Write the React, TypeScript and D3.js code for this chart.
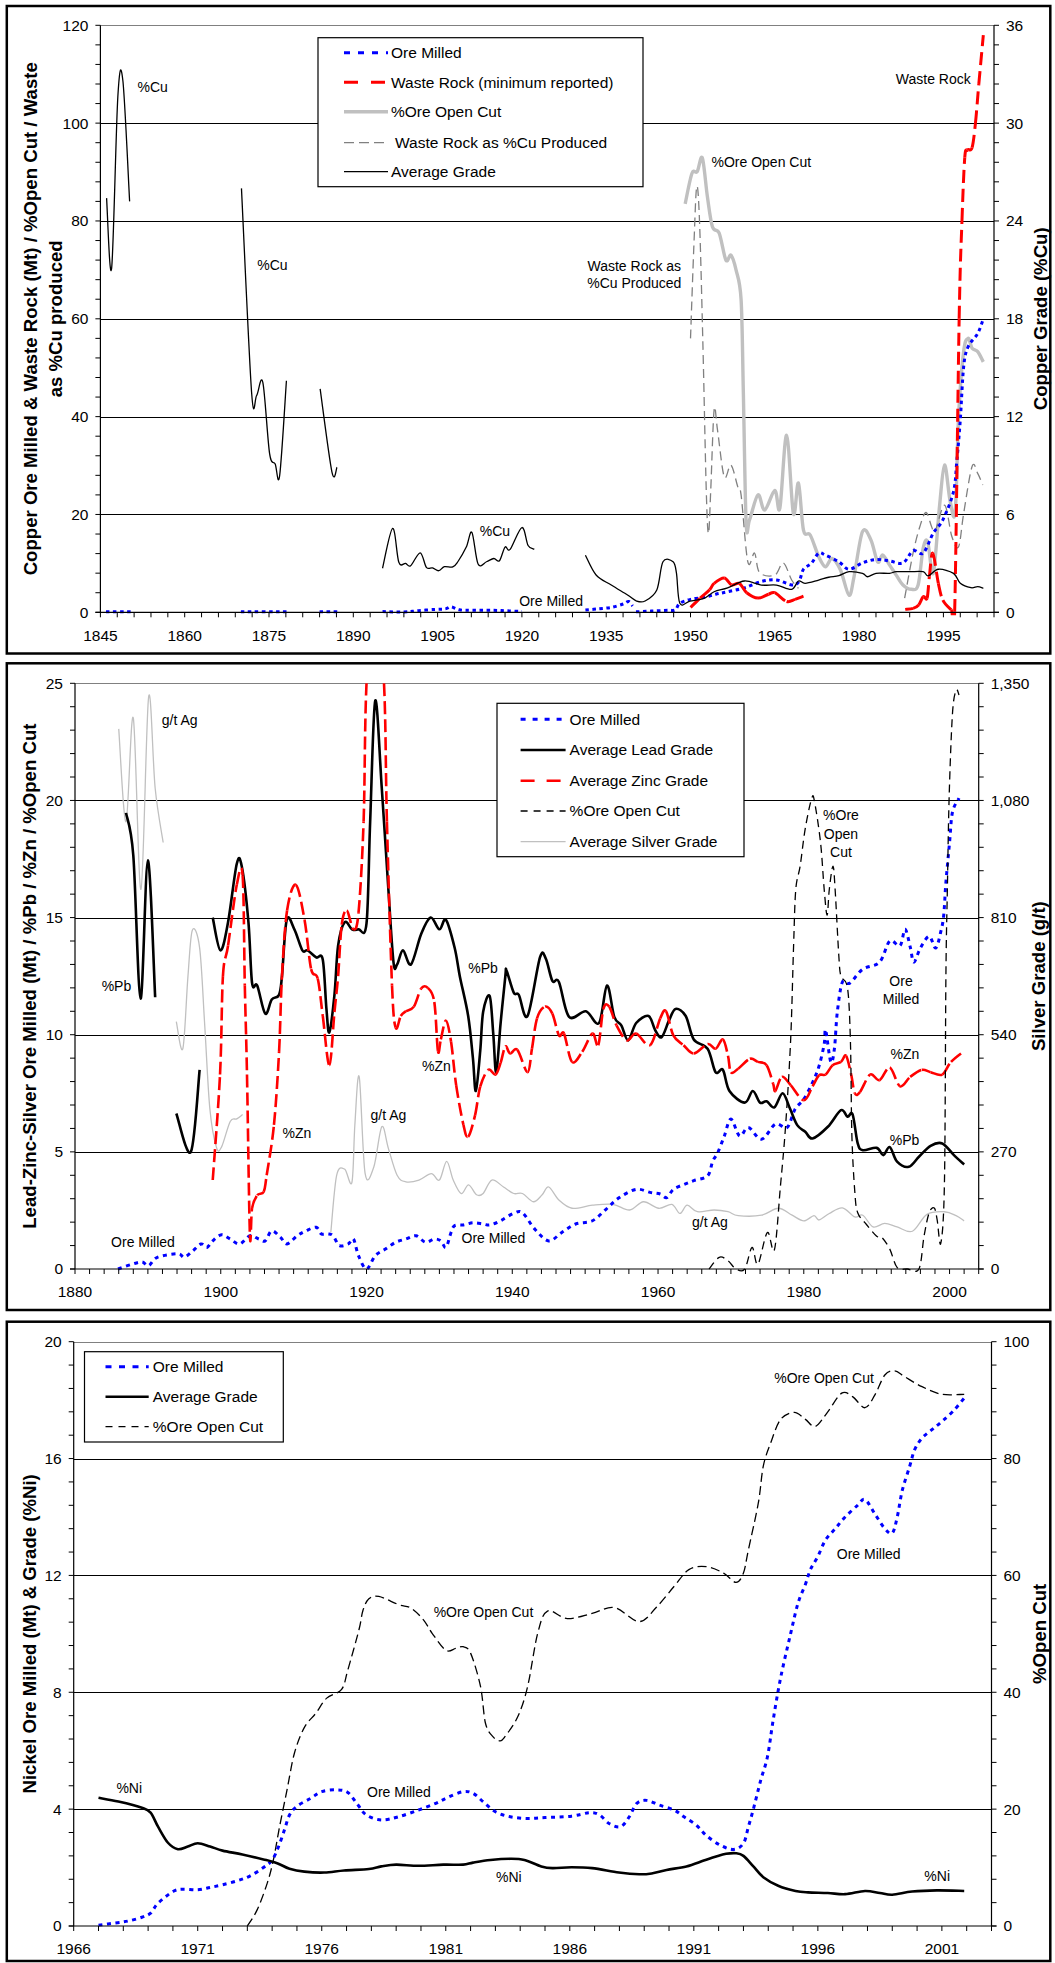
import React from "react";
import * as d3 from "d3";

type P = [number, number];
const FONT = '"Liberation Sans", Arial, Helvetica, sans-serif';

// ================= Panel 1 : Copper =================
const cuXDomain: P = [1845, 2004];
const cuXLabels = [1845, 1860, 1875, 1890, 1905, 1920, 1935, 1950, 1965, 1980, 1995];
const cuLeftTicks = [0, 20, 40, 60, 80, 100, 120];
const cuRightTicks = [0, 6, 12, 18, 24, 30, 36];

const cuOreMilled: P[][] = [
  [[1846, 0.1], [1850.5, 0.1]],
  [[1870, 0.1], [1878.2, 0.1]],
  [[1884, 0.1], [1887.2, 0.1]],
  [[1895.2, 0.14], [1899, 0.07], [1901.6, 0.34], [1904.6, 0.6], [1906.4, 0.7], [1907.4, 1.1], [1908.9, 0.5], [1911.3, 0.4], [1915, 0.4], [1917.3, 0.3], [1920, 0.17]],
  [[1931.3, 0.47], [1933.5, 0.7], [1935.9, 1.0], [1938, 1.7], [1939, 2.2], [1939.7, 1.3]],
  [[1940.3, 0.1], [1943, 0.25], [1946, 0.4], [1947.3, 0.5], [1948.1, 1.84], [1950, 2.65], [1952.4, 3.07], [1954.5, 3.7], [1956.6, 4.2], [1959.6, 5.0], [1962.6, 6.3], [1965.3, 6.6], [1968, 5.6], [1969.3, 6.3], [1970.1, 8.8], [1971.5, 10.0], [1972.8, 12.1], [1974, 11.7], [1976.4, 10.3], [1978.2, 8.8], [1980.6, 10.1], [1983, 10.8], [1985.4, 10.5], [1987.8, 10.1], [1989.6, 12.6], [1991.4, 12.1], [1993.2, 16.2], [1994.9, 18.9], [1996.8, 24.7], [1997.4, 31.1], [1998, 39.3], [1998.6, 50.2], [1999.4, 54.3], [2001.1, 57.0], [2002.1, 60]],
];
const cuWasteRock: P[][] = [
  [[1950, 1.0], [1951.7, 2.9], [1953.4, 4.6], [1954.2, 5.9], [1956, 7.0], [1957.3, 5.6], [1958.7, 5.9], [1960, 4.0], [1962, 2.9], [1963.9, 3.7], [1965, 4.0], [1967.1, 2.2], [1968.6, 2.65], [1970.1, 3.3]],
  [[1988.2, 0.6], [1989.6, 0.8], [1990.6, 1.5], [1991.4, 3.2], [1992.1, 2.9], [1992.5, 7.3], [1993.1, 12.1], [1994.1, 5.9], [1994.9, 2.5], [1996.4, 0.5], [1997.0, 0.1], [1997.8, 60], [1998.3, 80], [1998.8, 93], [1999.3, 94.5], [2000.1, 95], [2000.7, 100], [2001.3, 108], [2002.1, 118]],
];
const cuOpenCut: P[][] = [
  [[1949.05, 83.5], [1950.25, 89.7], [1951.2, 90.1], [1952.1, 92.9], [1953.0, 85], [1953.9, 78.8], [1955.1, 77.5], [1956.3, 72.0], [1957.2, 73], [1958.1, 70], [1959.0, 63.9], [1959.4, 45], [1959.9, 18.2], [1960.5, 18.9], [1962, 24.0], [1963.2, 20.9], [1965, 24.9], [1965.9, 21.3], [1967.1, 36.2], [1968.3, 20.2], [1969.2, 26.4], [1970.1, 16.8], [1971.3, 15.8], [1972.8, 11.4], [1974, 9.3], [1975.2, 11.0], [1976.7, 8.6], [1978.2, 3.5], [1979.1, 7.3], [1980.6, 16.5], [1982.1, 14.8], [1983.3, 10.3], [1984.2, 11.7], [1985.4, 9.7], [1986.6, 7.6], [1987.8, 5.6], [1989.3, 4.7], [1990.5, 5.6], [1991.4, 13.1], [1992.2, 14.4], [1993.2, 8.0], [1994.3, 21.6], [1995.2, 30.1], [1996.2, 22.7], [1997.1, 20.6], [1997.7, 40], [1998.6, 53.3], [1999.4, 56], [2000.1, 54], [2001.1, 53.3], [2002.1, 51.2]],
];
const cuWasteAsCu: P[][] = [
  [[1950.0, 56], [1950.6, 75], [1951.1, 87], [1951.6, 80], [1952.2, 55], [1952.8, 25], [1953.2, 16.1], [1953.6, 25], [1954.2, 41.4], [1954.8, 37.3], [1956, 27.7], [1957.2, 30.1], [1958.4, 25.7], [1959, 24], [1960.2, 10.3], [1961.4, 12.1], [1962.3, 8.1], [1965, 7.6], [1966.5, 10.1], [1968, 6.6], [1969.2, 4.9]],
  [[1988.1, 2.9], [1989.6, 12.1], [1990.8, 17.5], [1991.9, 20.4], [1992.9, 17.5], [1993.5, 16.5], [1995.2, 21.9], [1996.5, 15.5], [1997.7, 13.4], [1998.6, 20.2], [2000.1, 29.8], [2001.1, 28.4], [2002, 26]],
];
const cuGrade: P[][] = [
  [[1846.1, 25.4], [1847, 21.1], [1848.1, 31.6], [1849, 32.6], [1850.2, 25.2]],
  [[1870.1, 26.0], [1871.9, 13.5], [1872.8, 13.3], [1873.9, 14.1], [1875.1, 9.75], [1876.1, 9.1], [1876.9, 8.4], [1878.1, 14.2]],
  [[1884.1, 13.7], [1886.2, 8.6], [1887.1, 8.9]],
  [[1895.2, 2.7], [1897, 5.15], [1898.1, 3.07], [1899.3, 3.0], [1900.2, 2.86], [1901.9, 3.65], [1903, 2.76], [1904.1, 2.72], [1905.2, 2.55], [1906.2, 2.8], [1907.7, 2.78], [1908.6, 3.1], [1910.1, 4.0], [1911.1, 4.9], [1912.2, 2.96], [1913.7, 3.1], [1915, 3.3], [1916, 3.16], [1917, 4.0], [1917.9, 3.86], [1920, 5.2], [1921.1, 4.1], [1922.2, 3.86]],
  [[1931.3, 3.5], [1933.2, 2.29], [1935.9, 1.67], [1938.8, 1.06], [1940.4, 0.69], [1941.9, 0.69], [1944, 1.37], [1945.1, 3.1], [1946.9, 3.1], [1947.5, 2.4], [1948.1, 0.55], [1949.9, 0.69], [1952.4, 0.86], [1954.2, 1.26], [1956.6, 1.5], [1959.6, 1.92], [1962.6, 1.67], [1965.3, 1.67], [1968, 1.41], [1969.2, 1.92], [1970.4, 1.78], [1972.8, 1.98], [1974.6, 2.15], [1976.4, 2.25], [1978.2, 2.49], [1980.6, 2.39], [1981.5, 2.18], [1983, 2.39], [1985.4, 2.39], [1986.6, 2.49], [1989, 2.49], [1991.4, 2.49], [1992.3, 2.23], [1994.1, 2.64], [1996.8, 2.39], [1998, 1.78], [1999.9, 1.51], [2001.1, 1.57], [2002.1, 1.47]],
];

// ================= Panel 2 : Lead-Zinc-Silver =================
const pzXDomain: P = [1880, 2004];
const pzXLabels = [1880, 1900, 1920, 1940, 1960, 1980, 2000];
const pzLeftTicks = [0, 5, 10, 15, 20, 25];
const pzRightTicks = [0, 270, 540, 810, 1080, 1350];

const pzOreMilled: P[][] = [
  [[1885.9, 0], [1887.8, 0.2], [1889.2, 0.3], [1890.1, 0.14], [1891.3, 0.5], [1894.1, 0.65], [1895, 0.5], [1896.2, 0.78], [1897.3, 1.07], [1898.1, 0.92], [1898.9, 1.2], [1900.1, 1.46], [1901.3, 1.28], [1902.6, 1.07], [1904, 1.42], [1905.2, 1.28], [1906.1, 1.2], [1907, 1.63], [1908.2, 1.35], [1909.1, 1.07], [1910.5, 1.42], [1911.7, 1.63], [1913.1, 1.78], [1913.8, 1.5], [1914.7, 1.5], [1915.4, 1.42], [1916.3, 1.0], [1917.5, 1.07], [1918.2, 1.28], [1918.9, 0.57], [1920, 0], [1921.2, 0.57], [1922.6, 0.85], [1924, 1.14], [1925.4, 1.28], [1926.8, 1.42], [1928.1, 1.14], [1929.3, 1.28], [1930.2, 1.2], [1930.9, 0.92], [1931.6, 1.56], [1932.1, 1.85], [1933.3, 1.88], [1934.6, 1.97], [1936, 1.92], [1936.95, 1.88], [1938.4, 2.06], [1940.2, 2.38], [1941.4, 2.4], [1943.1, 1.7], [1945, 1.2], [1946.8, 1.56], [1948.7, 1.92], [1951, 2.06], [1952.9, 2.56], [1954.7, 3.05], [1957, 3.4], [1958.9, 3.27], [1960.3, 3.2], [1961.2, 3.05], [1962.1, 3.4], [1963.5, 3.6], [1964.9, 3.77], [1966.8, 3.98], [1967.5, 4.6], [1968.2, 4.97], [1969.1, 5.68], [1970, 6.4], [1971.2, 5.68], [1972.4, 6.04], [1974.2, 5.54], [1976.1, 6.18], [1977.7, 6.04], [1978.8, 6.82], [1980, 7.25], [1981.2, 7.96], [1982.1, 8.67], [1982.8, 9.6], [1983, 10.2], [1983.7, 8.84], [1984.2, 9.4], [1984.6, 10.97], [1985.3, 12.25], [1986.3, 12.2], [1988.1, 12.8], [1990.4, 13.1], [1991.8, 14.0], [1993.2, 13.8], [1993.9, 14.5], [1994.6, 13.75], [1995.1, 13.1], [1996, 13.7], [1997.2, 14.2], [1998.1, 13.7], [1998.8, 14.4], [1999.2, 15.1], [1999.5, 16.5], [2000, 18.2], [2000.4, 19.5], [2001.3, 20.1]],
];
const pzLead: P[][] = [
  [[1887, 19.47], [1888, 17.65], [1889, 11.54], [1890, 17.44], [1891, 11.6]],
  [[1893.9, 6.64], [1895.9, 5.0], [1897.1, 8.5]],
  [[1898.9, 15.0], [1899.95, 13.6], [1901, 14.8], [1902.2, 17.3], [1902.9, 17.16], [1903.8, 14.8], [1904.3, 12.2], [1905, 12.1], [1906.1, 10.9], [1907, 11.5], [1908, 11.7], [1908.4, 12.5], [1909.05, 14.9], [1910.1, 14.5], [1911.2, 13.6], [1911.9, 13.6], [1913.1, 13.3], [1914, 13.2], [1914.5, 11.1], [1914.9, 10.1], [1915.6, 11.7], [1916.1, 13.8], [1917, 14.8], [1918, 14.5], [1918.9, 14.5], [1920, 14.75], [1920.5, 19.1], [1921.2, 24.26], [1922.1, 20.5], [1923, 16.2], [1923.7, 13.1], [1924.2, 13.0], [1925, 13.6], [1926.1, 13.0], [1927.5, 14.3], [1928.8, 15.0], [1930, 14.5], [1930.9, 14.9], [1932.1, 13.7], [1932.8, 12.5], [1933.95, 10.8], [1934.6, 9.0], [1935, 7.6], [1935.6, 9.3], [1936, 10.97], [1936.9, 11.65], [1937.4, 10.0], [1937.8, 8.4], [1938.4, 10.5], [1939.05, 12.5], [1939.2, 12.75], [1940.2, 11.8], [1940.9, 11.7], [1942.1, 10.8], [1943.8, 13.3], [1944.6, 13.25], [1945.5, 12.3], [1946.4, 12.25], [1947.8, 10.76], [1950.1, 11.0], [1951.9, 10.5], [1953, 12.1], [1954, 10.76], [1954.96, 10.4], [1955.9, 9.76], [1957, 10.5], [1958.7, 10.8], [1959.6, 10.2], [1960.5, 9.9], [1961.5, 10.6], [1962.4, 11.1], [1963.8, 10.8], [1964.9, 9.8], [1966.8, 9.4], [1967.9, 8.4], [1968.9, 8.5], [1969.8, 7.6], [1971.9, 7.1], [1973, 7.6], [1974, 7.1], [1974.9, 7.16], [1975.97, 6.9], [1977.1, 7.5], [1978.1, 6.85], [1979.1, 6.14], [1980.2, 5.86], [1981.2, 5.57], [1983.3, 6.07], [1985.1, 6.78], [1986, 6.5], [1986.7, 6.6], [1987.4, 5.36], [1988.1, 5.07], [1990, 5.17], [1990.9, 4.86], [1991.8, 5.2], [1992.8, 4.58], [1994.4, 4.36], [1995.8, 4.79], [1997.4, 5.26], [1999, 5.36], [2000.6, 4.86], [2002, 4.46]],
];
const pzZinc: P[][] = [
  [[1898.9, 3.8], [1899.9, 8.3], [1900.3, 12.5], [1901, 13.8], [1902.2, 16.4], [1903, 16.8], [1903.3, 12.1], [1903.6, 8.3], [1904, 1.46], [1904.3, 2.6], [1905, 3.15], [1905.9, 3.3], [1906.3, 4.0], [1907.3, 6.15], [1908, 9.27], [1908.4, 12.5], [1909.1, 15.3], [1910.3, 16.4], [1911.5, 14.9], [1912.4, 12.8], [1913.3, 12.4], [1914, 10.8], [1914.9, 8.7], [1915.6, 10.97], [1916.1, 12.5], [1916.6, 14.7], [1917.3, 15.3], [1918.2, 14.5], [1918.9, 15.2], [1919.6, 19.1], [1920, 25], [1921.2, 30], [1922.4, 25], [1922.8, 19.1], [1923.5, 12.1], [1924, 10.3], [1924.7, 10.8], [1925.4, 11.0], [1926.5, 11.2], [1927.5, 11.97], [1928.4, 12.0], [1929.3, 11.4], [1929.8, 9.3], [1930.2, 9.8], [1930.9, 10.6], [1931.6, 9.7], [1932.3, 7.85], [1933.3, 6.15], [1933.95, 5.65], [1934.9, 6.57], [1935.6, 7.78], [1936.7, 8.5], [1937.7, 8.3], [1938.4, 8.8], [1939.05, 9.5], [1939.7, 9.2], [1940.7, 9.35], [1942.1, 8.4], [1942.7, 9.4], [1943.4, 10.7], [1944.5, 11.2], [1945.5, 10.9], [1946.4, 9.97], [1947.1, 10.05], [1948.2, 8.84], [1949.6, 9.27], [1951, 10.05], [1951.8, 9.55], [1952.5, 11.1], [1953.3, 11.2], [1954.3, 10.4], [1955.7, 9.76], [1957, 10.05], [1958.9, 9.55], [1960.3, 10.7], [1961.1, 11.0], [1962.1, 9.97], [1963.5, 9.55], [1964.9, 9.2], [1966.8, 9.6], [1967.9, 9.4], [1968.9, 9.8], [1969.6, 9.1], [1970, 8.4], [1971, 8.55], [1972.6, 8.97], [1973.7, 8.84], [1974.9, 8.7], [1975.8, 7.9], [1976.1, 7.6], [1977, 8.2], [1978.2, 7.85], [1980, 7.2], [1981.2, 7.8], [1982.1, 8.27], [1983, 8.3], [1983.95, 8.7], [1985.1, 8.84], [1985.8, 9.1], [1986.5, 8.3], [1987, 7.5], [1987.7, 7.55], [1989.1, 8.3], [1990.4, 8.06], [1991.8, 8.6], [1993.2, 7.8], [1994.6, 8.2], [1996.2, 8.5], [1997.4, 8.4], [1999, 8.3], [2000.2, 8.84], [2002, 9.3]],
];
const pzOpenCut: P[][] = [
  [[1967, 0], [1968.4, 0.5], [1969.6, 0.35], [1970.7, 0], [1971.9, 0], [1972.9, 0.92], [1973.7, 0.2], [1975, 1.56], [1975.97, 0.82], [1976.8, 3.55], [1977.5, 6.1], [1978.2, 9.8], [1978.6, 13.8], [1978.9, 16.2], [1979.5, 17.2], [1980.2, 18.8], [1981.1, 20.1], [1981.5, 19.9], [1982.3, 18.2], [1982.8, 16.2], [1983.2, 15.1], [1983.5, 16.2], [1984, 17.2], [1984.3, 16.2], [1984.8, 13.4], [1985.1, 12.5], [1986, 12.0], [1986.4, 9.7], [1986.6, 5.7], [1987, 3.3], [1987.4, 2.4], [1988.6, 1.9], [1990, 1.4], [1990.7, 1.35], [1991.8, 0.85], [1992.8, 0.07], [1994.2, 0], [1995.8, 0], [1996.5, 1.4], [1997.2, 2.4], [1997.9, 2.6], [1998.3, 2.1], [1998.8, 1.1], [1999.3, 3.7], [1999.5, 12.5], [1999.7, 16.2], [1999.95, 20.2], [2000.4, 23.7], [2000.9, 24.7], [2001.3, 24.5]],
];
const pzSilver: P[][] = [
  [[1886, 1245], [1887, 1031], [1888, 1270], [1889.05, 875], [1890.1, 1318], [1891, 1108], [1892.1, 983]],
  [[1893.9, 570], [1894.8, 508], [1895.5, 675], [1896.1, 781], [1897.1, 740], [1897.8, 562], [1898.5, 370], [1899.4, 281], [1900.1, 281], [1901.3, 340], [1902.2, 346], [1903, 356]],
  [[1915.1, 84], [1915.9, 216], [1917, 230], [1918, 200], [1918.4, 332], [1919, 443], [1919.8, 221], [1921, 235], [1922.1, 328], [1923, 278], [1924.2, 216], [1925.4, 201], [1927.2, 205], [1928.9, 220], [1930, 205], [1931, 248], [1931.9, 205], [1933, 174], [1934, 194], [1935.1, 171], [1936, 174], [1937.2, 205], [1938.8, 189], [1940.2, 174], [1941.4, 174], [1942.9, 155], [1944.1, 171], [1945, 189], [1946.4, 159], [1948.2, 140], [1951, 147], [1953.8, 149], [1956.1, 136], [1958, 155], [1960.1, 140], [1961.9, 149], [1963, 128], [1964, 147], [1965.4, 132], [1967.7, 136], [1969.6, 132], [1971, 123], [1974.2, 124], [1976.5, 140], [1978.4, 124], [1980, 111], [1981.4, 123], [1982.1, 113], [1983.5, 128], [1985.3, 141], [1987, 120], [1988.1, 124], [1989.5, 97], [1991.1, 105], [1992.8, 97], [1994.9, 87], [1996.9, 126], [1999.3, 132], [2000.9, 123], [2002, 111]],
];

// ================= Panel 3 : Nickel =================
const niXDomain: P = [1966, 2003];
const niXLabels = [1966, 1971, 1976, 1981, 1986, 1991, 1996, 2001];
const niLeftTicks = [0, 4, 8, 12, 16, 20];
const niRightTicks = [0, 20, 40, 60, 80, 100];

const niOreMilled: P[][] = [
  [[1967, 0.03], [1967.66, 0.1], [1968.2, 0.17], [1968.75, 0.3], [1969.1, 0.44], [1969.4, 0.78], [1970, 1.18], [1970.4, 1.26], [1971, 1.24], [1971.5, 1.32], [1972, 1.41], [1972.6, 1.55], [1973.1, 1.71], [1973.65, 2.0], [1974, 2.26], [1974.26, 2.72], [1974.5, 3.3], [1974.7, 3.8], [1975, 4.1], [1975.55, 4.37], [1976, 4.6], [1976.6, 4.66], [1977.05, 4.57], [1977.46, 4.14], [1977.8, 3.8], [1978.4, 3.63], [1979.1, 3.74], [1979.9, 3.97], [1980.6, 4.2], [1981.1, 4.41], [1981.7, 4.6], [1982.1, 4.54], [1982.5, 4.26], [1983, 3.91], [1983.6, 3.74], [1984.3, 3.68], [1985, 3.71], [1986.07, 3.76], [1986.8, 3.88], [1987.2, 3.8], [1987.6, 3.5], [1988.05, 3.4], [1988.4, 3.74], [1988.7, 4.2], [1989.1, 4.3], [1989.6, 4.14], [1990.2, 3.97], [1990.6, 3.74], [1991.1, 3.45], [1991.5, 3.1], [1992.06, 2.77], [1992.6, 2.62], [1993, 2.83], [1993.2, 3.4], [1993.4, 4.0], [1993.7, 5.0], [1993.97, 5.8], [1994.2, 7.06], [1994.5, 8.5], [1994.9, 10.0], [1995.2, 11.05], [1995.5, 11.7], [1995.7, 12.2], [1996, 12.65], [1996.3, 13.2], [1996.7, 13.6], [1997.1, 14.0], [1997.6, 14.4], [1997.9, 14.6], [1998.3, 14.1], [1998.7, 13.6], [1999, 13.45], [1999.2, 14.0], [1999.4, 14.9], [1999.7, 15.73], [1999.9, 16.3], [2000.2, 16.7], [2000.6, 16.99], [2001, 17.27], [2001.45, 17.62], [2001.9, 18.07]],
];
const niGrade: P[][] = [
  [[1967, 4.39], [1967.8, 4.26], [1968.75, 4.05], [1969.1, 3.88], [1969.4, 3.4], [1969.8, 2.85], [1970.2, 2.63], [1970.6, 2.72], [1971, 2.83], [1971.5, 2.72], [1972, 2.58], [1972.8, 2.45], [1973.65, 2.28], [1974.2, 2.15], [1974.7, 1.96], [1975.3, 1.86], [1976.1, 1.83], [1976.9, 1.9], [1977.9, 1.95], [1978.4, 2.04], [1979, 2.1], [1979.9, 2.06], [1980.9, 2.1], [1981.7, 2.1], [1982.1, 2.17], [1982.8, 2.26], [1983.6, 2.3], [1984.17, 2.26], [1984.85, 2.04], [1985.3, 1.98], [1986.07, 2.01], [1986.9, 1.98], [1987.98, 1.83], [1988.8, 1.77], [1989.3, 1.8], [1989.9, 1.92], [1990.7, 2.04], [1991.4, 2.24], [1991.9, 2.38], [1992.3, 2.47], [1992.7, 2.49], [1993, 2.4], [1993.4, 2.04], [1993.8, 1.67], [1994.4, 1.38], [1995.1, 1.2], [1995.6, 1.15], [1996.4, 1.13], [1997.1, 1.09], [1997.9, 1.2], [1998.5, 1.13], [1999, 1.07], [1999.8, 1.18], [2000.8, 1.22], [2001.9, 1.2]],
];
const niOpenCut: P[][] = [
  [[1973, 0], [1973.4, 2.8], [1973.8, 7.3], [1974.05, 11.3], [1974.3, 17], [1974.6, 23.3], [1974.9, 29.6], [1975.3, 34], [1975.76, 36.4], [1976.2, 39], [1976.8, 40.5], [1977.05, 43.8], [1977.5, 50.7], [1977.66, 54], [1977.9, 56], [1978.3, 56.4], [1979.1, 55], [1979.6, 54.4], [1980.1, 52.4], [1980.45, 50.1], [1981, 47.2], [1981.4, 47.5], [1981.7, 47.8], [1982, 46.7], [1982.4, 41], [1982.6, 34.7], [1982.9, 32.4], [1983.2, 31.7], [1983.4, 32.5], [1983.9, 35.8], [1984.3, 41], [1984.7, 50], [1985.1, 53.9], [1985.9, 52.6], [1986.9, 53.5], [1987.8, 54.5], [1988.8, 52.1], [1989.5, 54.6], [1990.2, 58.1], [1990.8, 61], [1991.5, 61.5], [1992.2, 60.4], [1992.7, 58.8], [1993, 60.4], [1993.2, 64.4], [1993.6, 72.4], [1993.8, 78.7], [1994.1, 82.7], [1994.5, 86.7], [1995.05, 87.9], [1995.5, 86.7], [1995.9, 85.5], [1996.4, 88], [1996.96, 91.2], [1997.4, 90.6], [1997.9, 88.7], [1998.3, 90.9], [1998.7, 94.3], [1999.1, 95], [1999.5, 94], [2000.2, 92.3], [2001, 91], [2001.9, 91]],
];

// ================= Types & configs =================
interface SeriesDef { segs: P[][]; axis: "L" | "R"; color: string; width: number; dash?: string; restart?: boolean; }
interface AnnDef { at: P; lines: string[]; axis?: "L" | "R"; lh?: number; }
interface LegendItem { label: string; color: string; width: number; dash?: string; dx?: number; }
interface PanelDef {
  frame: [number, number];
  plot: { l: number; r: number; t: number; b: number };
  xDomain: P; xMinor: number; xLabels: number[];
  leftTicks: number[]; leftMinor: number;
  rightTicks: number[]; rightMinor: number; rightFmt: (v: number) => string;
  leftTitle: { text: string; x: number }[]; rightTitle: { text: string; x: number };
  series: SeriesDef[];
  legend: { x0: number; x1: number; y0: number; y1: number; rows: number[]; s0: number; s1: number; tx: number; items: LegendItem[] };
  anns: AnnDef[];
}

const BLUE = "#0000ff", RED = "#ff0000", LGRAY = "#c0c0c0", DGRAY = "#808080";

const panels: PanelDef[] = [
  {
    frame: [6, 653.5],
    plot: { l: 100.4, r: 994, t: 25.3, b: 612.3 },
    xDomain: cuXDomain, xMinor: 3, xLabels: cuXLabels,
    leftTicks: cuLeftTicks, leftMinor: 4,
    rightTicks: cuRightTicks, rightMinor: 1.2, rightFmt: (v) => String(v),
    leftTitle: [
      { text: "Copper Ore Milled & Waste Rock (Mt) / %Open Cut / Waste", x: 30 },
      { text: "as %Cu produced", x: 55 },
    ],
    rightTitle: { text: "Copper Grade (%Cu)", x: 1040 },
    series: [
      { segs: cuOpenCut, axis: "L", color: LGRAY, width: 3.4 },
      { segs: cuWasteAsCu, axis: "L", color: DGRAY, width: 1.3, dash: "9,5" },
      { segs: cuOreMilled, axis: "L", color: BLUE, width: 3, dash: "3.5,3.5" },
      { segs: cuWasteRock, axis: "L", color: RED, width: 3, dash: "13,6", restart: true },
      { segs: cuGrade, axis: "R", color: "#000", width: 1.3 },
    ],
    legend: {
      x0: 318, x1: 643, y0: 37.7, y1: 186.7, rows: [52.7, 82.3, 111.7, 142.7, 171.7], s0: 344, s1: 388, tx: 391,
      items: [
        { label: "Ore Milled", color: BLUE, width: 3, dash: "6,8" },
        { label: "Waste Rock (minimum reported)", color: RED, width: 3, dash: "14,13" },
        { label: "%Ore Open Cut", color: LGRAY, width: 3.4 },
        { label: "Waste Rock as %Cu Produced", color: DGRAY, width: 1.3, dash: "10,5", dx: 4 },
        { label: "Average Grade", color: "#000", width: 1.3 },
      ],
    },
    anns: [
      { at: [1854.3, 107.3], lines: ["%Cu"] },
      { at: [1875.6, 71.0], lines: ["%Cu"] },
      { at: [1915.2, 16.7], lines: ["%Cu"] },
      { at: [1925.2, 2.3], lines: ["Ore Milled"] },
      { at: [1940.0, 69.0], lines: ["Waste Rock as", "%Cu Produced"], lh: 17.6 },
      { at: [1962.6, 92.0], lines: ["%Ore Open Cut"] },
      { at: [1993.2, 109.0], lines: ["Waste Rock"] },
    ],
  },
  {
    frame: [663.3, 1310],
    plot: { l: 75, r: 978.7, t: 683.3, b: 1269 },
    xDomain: pzXDomain, xMinor: 2, xLabels: pzXLabels,
    leftTicks: pzLeftTicks, leftMinor: 1,
    rightTicks: pzRightTicks, rightMinor: 54, rightFmt: d3.format(","),
    leftTitle: [{ text: "Lead-Zinc-Silver Ore Milled (Mt) / %Pb / %Zn / %Open Cut", x: 29 }],
    rightTitle: { text: "Silver Grade (g/t)", x: 1038.5 },
    series: [
      { segs: pzSilver, axis: "R", color: LGRAY, width: 1.3 },
      { segs: pzOreMilled, axis: "L", color: BLUE, width: 3, dash: "4,4.5" },
      { segs: pzLead, axis: "L", color: "#000", width: 2.6 },
      { segs: pzZinc, axis: "L", color: RED, width: 2.6, dash: "13,5", restart: true },
      { segs: pzOpenCut, axis: "L", color: "#000", width: 1.3, dash: "8,5" },
    ],
    legend: {
      x0: 497, x1: 744, y0: 703.3, y1: 856.7, rows: [719.3, 750, 780.7, 811, 841.7], s0: 520.6, s1: 565.6, tx: 569.6,
      items: [
        { label: "Ore Milled", color: BLUE, width: 3, dash: "5,7" },
        { label: "Average Lead Grade", color: "#000", width: 2.6 },
        { label: "Average Zinc Grade", color: RED, width: 2.6, dash: "14,12" },
        { label: "%Ore Open Cut", color: "#000", width: 1.3, dash: "7,6" },
        { label: "Average Silver Grade", color: LGRAY, width: 1.3 },
      ],
    },
    anns: [
      { at: [1894.37, 23.41], lines: ["g/t Ag"] },
      { at: [1885.69, 12.07], lines: ["%Pb"] },
      { at: [1910.46, 5.8], lines: ["%Zn"] },
      { at: [1923.0, 6.57], lines: ["g/t Ag"] },
      { at: [1929.6, 8.67], lines: ["%Zn"] },
      { at: [1936.0, 12.84], lines: ["%Pb"] },
      { at: [1889.33, 1.14], lines: ["Ore Milled"] },
      { at: [1937.41, 1.32], lines: ["Ore Milled"] },
      { at: [1967.13, 2.02], lines: ["g/t Ag"] },
      { at: [1993.83, 5.5], lines: ["%Pb"] },
      { at: [1993.89, 9.17], lines: ["%Zn"] },
      { at: [1993.34, 11.9], lines: ["Ore", "Milled"], lh: 18 },
      { at: [1985.1, 18.58], lines: ["%Ore", "Open", "Cut"], lh: 18.7 },
    ],
  },
  {
    frame: [1321.7, 1961],
    plot: { l: 73.7, r: 991.5, t: 1341.7, b: 1926 },
    xDomain: niXDomain, xMinor: 1, xLabels: niXLabels,
    leftTicks: niLeftTicks, leftMinor: 0.8,
    rightTicks: niRightTicks, rightMinor: 4, rightFmt: (v) => String(v),
    leftTitle: [{ text: "Nickel Ore Milled (Mt) & Grade (%Ni)", x: 29 }],
    rightTitle: { text: "%Open Cut", x: 1039 },
    series: [
      { segs: niOpenCut, axis: "R", color: "#000", width: 1.3, dash: "9,4.5" },
      { segs: niOreMilled, axis: "L", color: BLUE, width: 3, dash: "4,4.5" },
      { segs: niGrade, axis: "L", color: "#000", width: 2.6 },
    ],
    legend: {
      x0: 84.5, x1: 283.3, y0: 1351.7, y1: 1442, rows: [1366.7, 1396.7, 1426.7], s0: 105.5, s1: 148.7, tx: 152.8,
      items: [
        { label: "Ore Milled", color: BLUE, width: 3, dash: "6,7.5" },
        { label: "Average Grade", color: "#000", width: 2.6 },
        { label: "%Ore Open Cut", color: "#000", width: 1.3, dash: "7,6" },
      ],
    },
    anns: [
      { at: [1968.24, 4.72], lines: ["%Ni"] },
      { at: [1979.11, 4.58], lines: ["Ore Milled"] },
      { at: [1983.54, 1.69], lines: ["%Ni"] },
      { at: [1982.52, 10.74], lines: ["%Ore Open Cut"] },
      { at: [1996.25, 18.76], lines: ["%Ore Open Cut"] },
      { at: [1998.05, 12.73], lines: ["Ore Milled"] },
      { at: [2000.81, 1.71], lines: ["%Ni"] },
    ],
  },
];

// Excel-like smoothed line: Catmull-Rom Bezier pieces
function smoothPieces(pts: P[]): { whole: string; parts: string[] } {
  const n = pts.length;
  const whole = d3.path();
  const parts: string[] = [];
  if (n === 0) return { whole: "", parts };
  whole.moveTo(pts[0][0], pts[0][1]);
  for (let i = 0; i < n - 1; i++) {
    const p0 = pts[Math.max(0, i - 1)], p1 = pts[i], p2 = pts[i + 1], p3 = pts[Math.min(n - 1, i + 2)];
    const lo = Math.min(p1[0], p2[0]), hi = Math.max(p1[0], p2[0]);
    const c1x = Math.min(hi, Math.max(lo, p1[0] + (p2[0] - p0[0]) / 6));
    const c1y = p1[1] + (p2[1] - p0[1]) / 6;
    const c2x = Math.min(hi, Math.max(lo, p2[0] - (p3[0] - p1[0]) / 6));
    const c2y = p2[1] - (p3[1] - p1[1]) / 6;
    whole.bezierCurveTo(c1x, c1y, c2x, c2y, p2[0], p2[1]);
    const seg = d3.path();
    seg.moveTo(p1[0], p1[1]);
    seg.bezierCurveTo(c1x, c1y, c2x, c2y, p2[0], p2[1]);
    parts.push(seg.toString());
  }
  return { whole: whole.toString(), parts };
}

function ticksBy(d0: number, d1: number, step: number): number[] {
  const out: number[] = [];
  const n = Math.round((d1 - d0) / step);
  for (let i = 0; i <= n; i++) out.push(+(d0 + i * step).toFixed(6));
  return out;
}

function Panel({ def, idx }: { def: PanelDef; idx: number }) {
  const { plot } = def;
  const x = d3.scaleLinear().domain(def.xDomain).range([plot.l, plot.r]);
  const lExt = d3.extent(def.leftTicks) as P;
  const rExt = d3.extent(def.rightTicks) as P;
  const yL = d3.scaleLinear().domain(lExt).range([plot.b, plot.t]);
  const yR = d3.scaleLinear().domain(rExt).range([plot.b, plot.t]);
  const clipId = `clip${idx}`;
  const tickFs = 15.5;
  const titleFs = 18.6;
  const cy = (plot.t + plot.b) / 2;

  return (
    <g>
      <defs>
        <clipPath id={clipId}>
          <rect x={plot.l - 3} y={plot.t} width={plot.r - plot.l + 6} height={plot.b - plot.t + 3} />
        </clipPath>
      </defs>
      <rect x={6.8} y={def.frame[0]} width={1043.5} height={def.frame[1] - def.frame[0]} fill="#fff" stroke="#000" strokeWidth={2.5} />
      {/* gridlines */}
      {def.leftTicks.filter((t) => t !== lExt[0] && t !== lExt[1]).map((t) => (
        <line key={"g" + t} x1={plot.l} x2={plot.r} y1={Math.round(yL(t)) + 0.5} y2={Math.round(yL(t)) + 0.5} stroke="#000" strokeWidth={1} />
      ))}
      <line x1={plot.l} x2={plot.r} y1={Math.round(plot.t) + 0.5} y2={Math.round(plot.t) + 0.5} stroke={DGRAY} strokeWidth={1} />
      {/* series */}
      <g clipPath={`url(#${clipId})`}>
        {def.series.map((s, si) =>
          s.segs.map((seg, gi) => {
            const ys = s.axis === "L" ? yL : yR;
            const pts: P[] = seg.map(([a, b]) => [x(a), ys(b)]);
            const { whole, parts } = smoothPieces(pts);
            const common = { fill: "none", stroke: s.color, strokeWidth: s.width, strokeLinejoin: "round" as const, strokeLinecap: "butt" as const };
            if (s.dash && s.restart) {
              return (
                <g key={`s${si}-${gi}`}>
                  {parts.map((d, k) => <path key={k} d={d} {...common} strokeDasharray={s.dash} />)}
                </g>
              );
            }
            return <path key={`s${si}-${gi}`} d={whole} {...common} strokeDasharray={s.dash} />;
          })
        )}
      </g>
      {/* axes */}
      <line x1={plot.l} x2={plot.l} y1={plot.t} y2={plot.b} stroke="#000" strokeWidth={1.2} />
      <line x1={plot.r} x2={plot.r} y1={plot.t} y2={plot.b} stroke="#000" strokeWidth={1.2} />
      <line x1={plot.l - 5} x2={plot.r + 5} y1={plot.b} y2={plot.b} stroke="#000" strokeWidth={1.2} />
      {ticksBy(lExt[0], lExt[1], def.leftMinor).map((t, i) => (
        <line key={"lt" + i} x1={plot.l - 5} x2={plot.l} y1={yL(t)} y2={yL(t)} stroke="#000" strokeWidth={1} />
      ))}
      {ticksBy(rExt[0], rExt[1], def.rightMinor).map((t, i) => (
        <line key={"rt" + i} x1={plot.r} x2={plot.r + 5} y1={yR(t)} y2={yR(t)} stroke="#000" strokeWidth={1} />
      ))}
      {ticksBy(def.xDomain[0], def.xDomain[1], def.xMinor).map((t, i) => (
        <line key={"xt" + i} x1={x(t)} x2={x(t)} y1={plot.b} y2={plot.b + 5} stroke="#000" strokeWidth={1} />
      ))}
      {def.leftTicks.map((t) => (
        <text key={"ll" + t} x={plot.l - 12} y={yL(t)} dy="0.35em" textAnchor="end" fontSize={tickFs} fontFamily={FONT}>{t}</text>
      ))}
      {def.rightTicks.map((t) => (
        <text key={"rl" + t} x={plot.r + 12} y={yR(t)} dy="0.35em" textAnchor="start" fontSize={tickFs} fontFamily={FONT}>{def.rightFmt(t)}</text>
      ))}
      {def.xLabels.map((t) => (
        <text key={"xl" + t} x={x(t)} y={plot.b + 23} dy="0.35em" textAnchor="middle" fontSize={tickFs} fontFamily={FONT}>{t}</text>
      ))}
      {/* axis titles */}
      {def.leftTitle.map((lt, i) => (
        <text key={"lti" + i} transform={`translate(${lt.x},${cy}) rotate(-90)`} dy="0.35em" textAnchor="middle" fontSize={titleFs} fontWeight="bold" fontFamily={FONT}>{lt.text}</text>
      ))}
      <text transform={`translate(${def.rightTitle.x},${cy}) rotate(-90)`} dy="0.35em" textAnchor="middle" fontSize={titleFs} fontWeight="bold" fontFamily={FONT}>{def.rightTitle.text}</text>
      {/* annotations */}
      {def.anns.map((a, i) => {
        const ys = a.axis === "R" ? yR : yL;
        const lh = a.lh ?? 17;
        const n = a.lines.length;
        const y0 = ys(a.at[1]) - ((n - 1) * lh) / 2;
        return (
          <text key={"an" + i} x={x(a.at[0])} y={y0} textAnchor="middle" fontSize={14} fontFamily={FONT}>
            {a.lines.map((ln, k) => (
              <tspan key={k} x={x(a.at[0])} y={y0 + k * lh} dy="0.35em">{ln}</tspan>
            ))}
          </text>
        );
      })}
      {/* legend */}
      <rect x={def.legend.x0} y={def.legend.y0} width={def.legend.x1 - def.legend.x0} height={def.legend.y1 - def.legend.y0} fill="#fff" stroke="#000" strokeWidth={1.2} />
      {def.legend.items.map((it, i) => (
        <g key={"lg" + i}>
          <line x1={def.legend.s0} x2={def.legend.s1} y1={def.legend.rows[i]} y2={def.legend.rows[i]} stroke={it.color} strokeWidth={it.width} strokeDasharray={it.dash} />
          <text x={def.legend.tx + (it.dx ?? 0)} y={def.legend.rows[i]} dy="0.35em" fontSize={15.5} fontFamily={FONT}>{it.label}</text>
        </g>
      ))}
    </g>
  );
}

export default function App() {
  return (
    <svg width={1055} height={1963} viewBox="0 0 1055 1963" style={{ position: "absolute", left: 0, top: 0, display: "block", background: "#fff" }}>
      <rect x={0} y={0} width={1055} height={1963} fill="#fff" />
      {panels.map((p, i) => <Panel key={i} def={p} idx={i} />)}
    </svg>
  );
}
